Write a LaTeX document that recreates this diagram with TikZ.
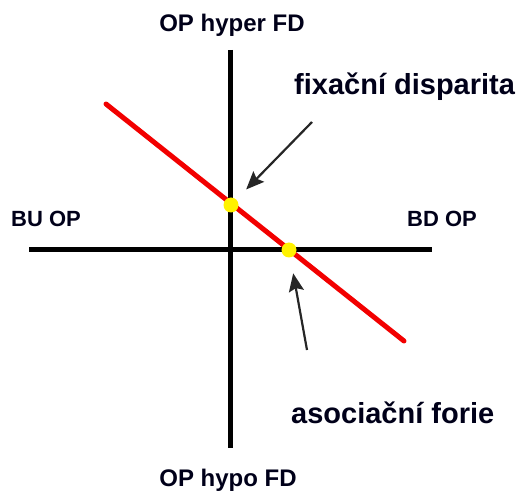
\documentclass[tikz,border=0pt]{standalone}
\usepackage{fontspec}
\setmainfont{Liberation Sans}
\usetikzlibrary{arrows.meta}
\begin{document}
\begin{tikzpicture}[x=1pt,y=-1pt,
  axis/.style={line width=5pt,black},
  redline/.style={line width=5pt,red!95!black,line cap=round},
  dot/.style={circle,fill=yellow,minimum size=15pt,inner sep=0pt},
  pointer/.style={line width=2.2pt,black!85,-{Stealth[length=18pt,width=15pt,inset=3pt]}},
  axlab/.style={font=\bfseries\fontsize{22}{26}\selectfont,anchor=base,inner sep=0pt,text=black!90!blue},
  vlab/.style={font=\bfseries\fontsize{24}{28}\selectfont,anchor=base,inner sep=0pt,text=black!90!blue},
  biglab/.style={font=\bfseries\fontsize{29}{34}\selectfont,anchor=base west,inner sep=0pt,text=black!90!blue}]
\useasboundingbox (0,0) rectangle (523,492);
% axes
\coordinate (vt) at (230,50);
\coordinate (vb) at (230,448);
\coordinate (hl) at (29,250);
\coordinate (hr) at (432,250);
\draw[axis] (vt) -- (vb);
\draw[axis] (hl) -- (hr);
% red line
\coordinate (rs) at (106,104);
\coordinate (re) at (404,341);
\draw[redline] (rs) -- (re);
% dots
\node[dot] (fd) at (231,205) {};
\node[dot] (af) at (289,250) {};
% labels
\node[vlab] (top) at (232,32) {OP hyper FD};
\node[vlab] (bot) at (228,486) {OP hypo FD};
\node[axlab] (bu) at (46,227) {BU OP};
\node[axlab] (bd) at (442,227) {BD OP};
\node[biglab] (fdl) at (294,95) {fixační disparita};
\node[biglab] (afl) at (291,423) {asociační forie};
% arrows
\coordinate (a1) at (312,122);
\coordinate (a2) at (307,350);
\draw[pointer,shorten >=14pt] (a1) -- (fd);
\draw[pointer,shorten >=16pt] (a2) -- (af);
\end{tikzpicture}
\end{document}
